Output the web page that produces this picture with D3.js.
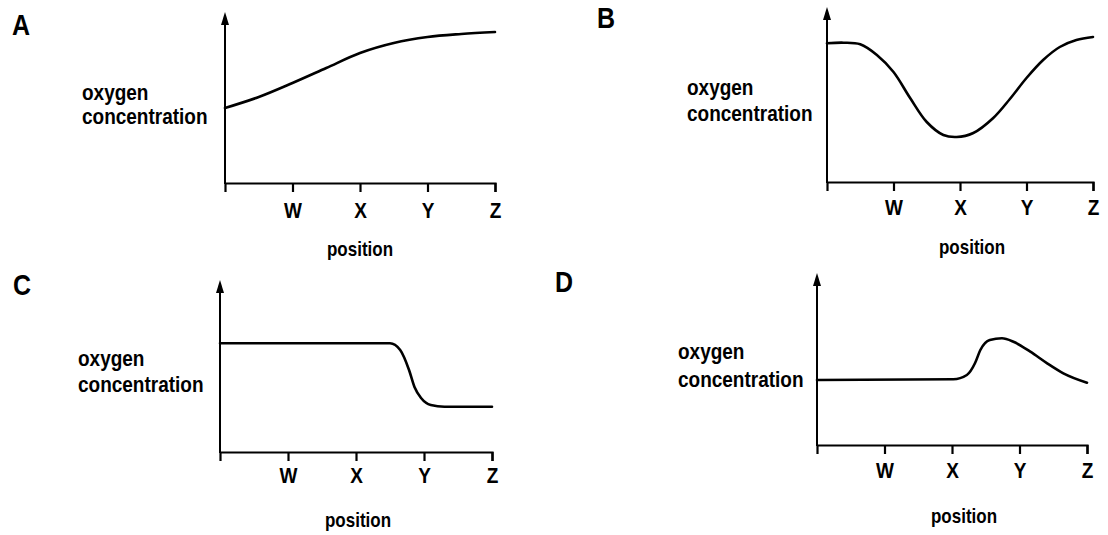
<!DOCTYPE html>
<html>
<head>
<meta charset="utf-8">
<script src="https://cdnjs.cloudflare.com/ajax/libs/d3/7.8.5/d3.min.js"></script>
<style>
  body { margin: 0; background: #fff; }
  svg text { font-family: "Liberation Sans", Arial, sans-serif; font-weight: bold; fill: #000; }
</style>
</head>
<body>
<div id="vis"></div>
<script>
var w = 1108;
var h = 535;

// data: position on x (0 = origin, 1..4 = W..Z), oxygen level above the x axis
var positionTicks = [1, 2, 3, 4];
var positionLabels = ["W", "X", "Y", "Z"];
var panelLetters = ["A", "B", "C", "D"];

var curveA = [[0, 75], [0.5, 86], [1, 100], [1.5, 115], [2, 130], [2.5, 140], [3, 146], [3.5, 149], [4, 151]];
var curveB = [[0, 138.7], [0.25, 139.3], [0.5, 137.7], [0.75, 127], [1, 110], [1.25, 84], [1.5, 60], [1.75, 47], [1.95, 45], [2.2, 49], [2.5, 64], [2.75, 83], [3, 104], [3.25, 122], [3.5, 135], [3.75, 142], [4, 145]];
var curveC = [[0, 108.7], [2.5, 108.7], [2.65, 102], [2.78, 82], [2.86, 65], [2.96, 53.7], [3.1, 47], [3.3, 45.3], [4, 45.3]];
var curveD = [[0, 65], [2.02, 65.7], [2.22, 70], [2.34, 81.7], [2.42, 95], [2.56, 105], [2.74, 106.7], [2.91, 103.3], [3.16, 93.3], [3.41, 81.7], [3.65, 71.7], [4, 62.3]];

var curves = [curveA, curveB, curveC, curveD];

// smooth ones get catmull-rom, the ones with flat runs stay monotone
var curveTypes = [d3.curveCatmullRom, d3.curveCatmullRom, d3.curveMonotoneX, d3.curveMonotoneX];

// layout of the four little graphs
var panels = [
	{ox: 225, oy: 183, xEnd: 495, top: 12, lx: 12, ly: 35, tx: 82, oxyY: 100, conY: 124, tickY: 218, posY: 256, posX: 360},
	{ox: 827, oy: 182, xEnd: 1093, top: 7, lx: 597, ly: 28, tx: 687, oxyY: 95, conY: 121, tickY: 215, posY: 254, posX: 972},
	{ox: 220, oy: 452, xEnd: 492, top: 280, lx: 13, ly: 295, tx: 78, oxyY: 366, conY: 392, tickY: 483, posY: 527, posX: 358},
	{ox: 817, oy: 445, xEnd: 1087, top: 273, lx: 555, ly: 292, tx: 678, oxyY: 359, conY: 387, tickY: 478, posY: 523, posX: 964}
];

var svg = d3.select("#vis")
	.append("svg")
	.attr("width", w)
	.attr("height", h);

// tall narrow lettering like the scan
function label(g, str, x, y, size, anchor) {
	return g.append("text")
		.text(str)
		.attr("transform", "translate(" + x + "," + y + ") scale(1,1.2)")
		.attr("text-anchor", anchor)
		.style("font-size", size + "px");
}

panels.forEach(function(p, i) {
	var g = svg.append("g");

	var x = d3.scaleLinear().domain([0, 4]).range([p.ox, p.xEnd]);
	var y = d3.scaleLinear().domain([0, 170]).range([p.oy, p.oy - 170]);

	// x axis
	var xAxis = d3.axisBottom(x)
		.tickValues(positionTicks)
		.tickFormat(function(d) { return positionLabels[d - 1]; })
		.tickSizeOuter(0)
		.tickSize(9);

	var ax = g.append("g")
		.attr("transform", "translate(0," + p.oy + ")")
		.call(xAxis);
	ax.select(".domain").attr("stroke", "#000").attr("stroke-width", 2.2);
	ax.selectAll(".tick line").attr("stroke", "#000").attr("stroke-width", 2.2);
	ax.selectAll(".tick text")
		.attr("y", null)
		.attr("dy", null)
		.attr("fill", "#000")
		.attr("transform", "translate(0," + (p.tickY - p.oy) + ") scale(1,1.2)")
		.style("font-size", "19px")
		.style("font-family", "'Liberation Sans', Arial, sans-serif")
		.style("font-weight", "bold");

	// y axis with arrow
	g.append("line")
		.attr("x1", p.ox)
		.attr("x2", p.ox)
		.attr("y1", p.oy + 1)
		.attr("y2", p.top + 8)
		.attr("stroke", "#000")
		.attr("stroke-width", 2);
	g.append("path")
		.attr("d", "M" + (p.ox - 4) + "," + (p.top + 13) + " L" + p.ox + "," + p.top + " L" + (p.ox + 4) + "," + (p.top + 13) + " Z")
		.attr("fill", "#000");

	// curve
	var line = d3.line()
		.x(function(d) { return x(d[0]); })
		.y(function(d) { return y(d[1]); })
		.curve(curveTypes[i]);

	g.append("path")
		.datum(curves[i])
		.attr("d", line)
		.attr("fill", "none")
		.attr("stroke", "#000")
		.attr("stroke-width", 2.6)
		.attr("stroke-linecap", "round");

	// texts
	label(g, panelLetters[i], p.lx, p.ly, 25, "start");
	label(g, "oxygen", p.tx, p.oxyY, 19, "start");
	label(g, "concentration", p.tx, p.conY, 19, "start");
	label(g, "position", p.posX, p.posY, 17, "middle");
});
</script>
</body>
</html>
